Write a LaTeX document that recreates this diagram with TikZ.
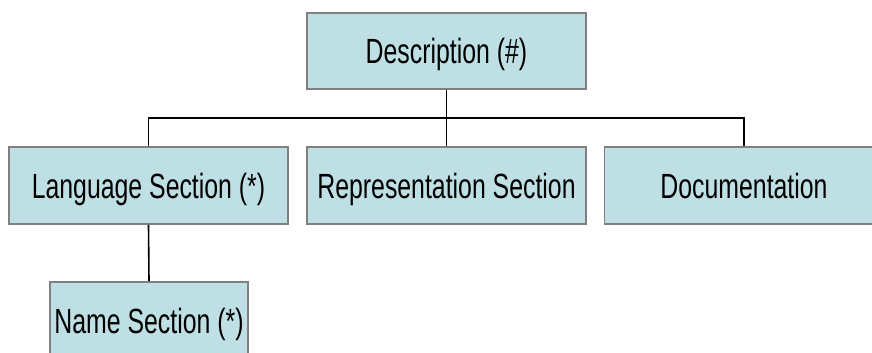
\documentclass[tikz,border=0pt]{standalone}
\usepackage{graphicx}
\usepackage{fontspec}
\setmainfont{Liberation Sans}
\definecolor{boxfill}{RGB}{190,224,228}
\definecolor{boxline}{RGB}{128,128,128}
\newcommand{\boxtext}[1]{\scalebox{0.71}[1]{\fontsize{35}{42}\selectfont #1}}
\tikzset{
  orgbox/.style={draw=boxline, line width=1.8pt, fill=boxfill, minimum width=279pt, minimum height=77pt, inner sep=0pt, text height=25pt, text depth=0pt, anchor=center},
  link/.style={draw=black, line width=1.6pt}
}
\begin{document}
\begin{tikzpicture}[x=1pt,y=-1pt]
\useasboundingbox (0,0) rectangle (872,353);
\clip (0,0) rectangle (872,353);
\node[orgbox, minimum height=76pt] (desc) at (446.5,51) {\boxtext{Description (\#)}};
\node[orgbox] (lang) at (148.5,185.5) {\boxtext{Language Section (*)}};
\node[orgbox] (rep) at (446.5,185.5) {\boxtext{Representation Section}};
\node[orgbox] (doc) at (744,185.5) {\boxtext{Documentation}};
\node[orgbox, minimum width=198pt] (name) at (149,320.5) {\boxtext{Name Section (*)}};
\coordinate (bus) at (446.5,118);
\draw[link] (desc.south) -- (rep.north);
\draw[link] (lang.north) |- (bus) -| (doc.north);
\draw[link] (lang.south) -- (name.north);
\end{tikzpicture}
\end{document}
